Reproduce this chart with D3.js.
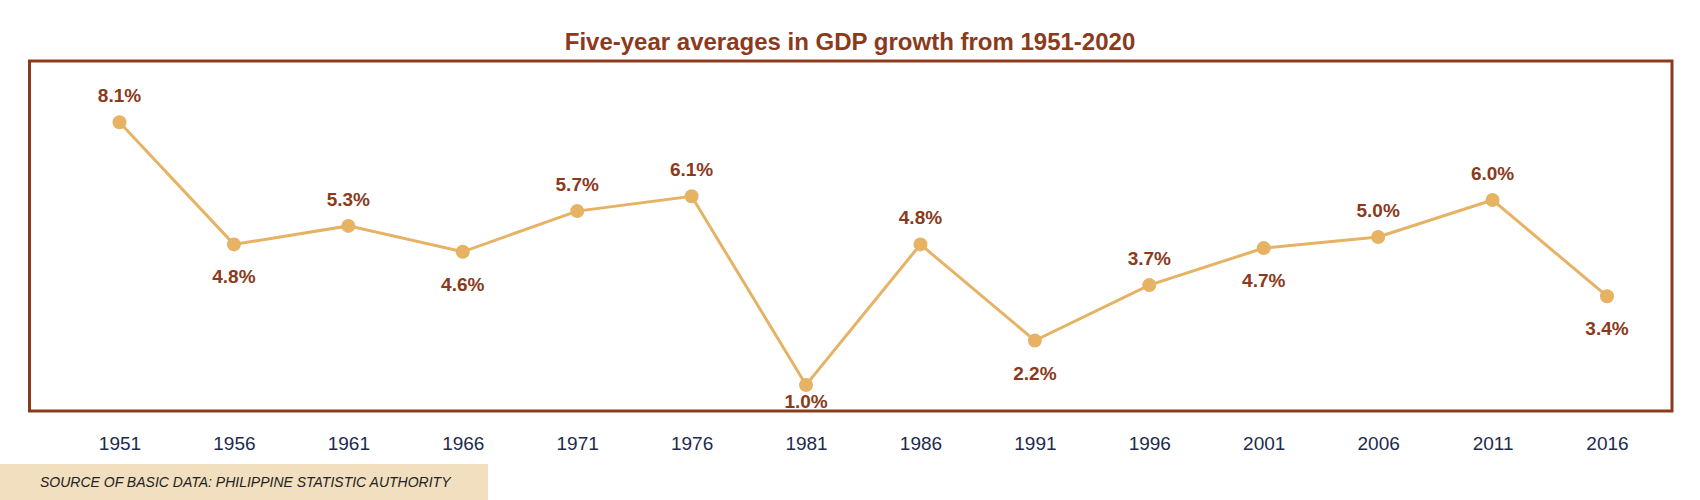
<!DOCTYPE html>
<html>
<head>
<meta charset="utf-8">
<script src="https://cdn.jsdelivr.net/npm/d3@7"></script>
<style>
  html, body { margin: 0; padding: 0; background: #ffffff; }
  svg { display: block; font-family: "Liberation Sans", Arial, sans-serif; }
</style>
</head>
<body>
<svg id="chart" width="1700" height="500"></svg>
<script>
// ---- data ----
const years = ["1951","1956","1961","1966","1971","1976","1981","1986","1991","1996","2001","2006","2011","2016"];
const growth = [8.1, 4.8, 5.3, 4.6, 5.7, 6.1, 1.0, 4.8, 2.2, 3.7, 4.7, 5.0, 6.0, 3.4];
const labelSide = ["above","below","above","below","above","above","below","above","below","above","below","above","above","below"];
const titleText = "Five-year averages in GDP growth from 1951-2020";
const sourceText = "SOURCE OF BASIC DATA: PHILIPPINE STATISTIC AUTHORITY";

// ---- styles ----
const brown = "#8b3a1c";
const lineColor = "#e6b264";
const navy = "#1c2b4e";

const svg = d3.select("#chart");

const box = { left: 29.5, top: 61, right: 1672, bottom: 411 };

const x = d3.scalePoint().domain(years).range([119.5, 1607]);
const y = d3.scaleLinear().domain([0, 9]).range([422, 89]);

// title
svg.append("text")
  .attr("x", 850).attr("y", 50)
  .attr("text-anchor", "middle")
  .attr("font-size", 24).attr("font-weight", "bold")
  .attr("fill", brown)
  .text(titleText);

// frame
svg.append("rect")
  .attr("x", box.left).attr("y", box.top)
  .attr("width", box.right - box.left).attr("height", box.bottom - box.top)
  .attr("fill", "none").attr("stroke", brown).attr("stroke-width", 3);

const data = years.map((yr, i) => ({ year: yr, v: growth[i], side: labelSide[i] }));

// line
svg.append("path")
  .datum(data)
  .attr("fill", "none")
  .attr("stroke", lineColor)
  .attr("stroke-width", 3)
  .attr("d", d3.line().x(d => x(d.year)).y(d => y(d.v)));

// points
svg.append("g").selectAll("circle")
  .data(data).join("circle")
  .attr("cx", d => x(d.year)).attr("cy", d => y(d.v))
  .attr("r", 7)
  .attr("fill", lineColor);

// value labels
svg.append("g").selectAll("text")
  .data(data).join("text")
  .attr("x", d => x(d.year))
  .attr("y", d => {
    const py = y(d.v);
    const c = d.side === "above" ? py - 27 : Math.min(py + 32, box.bottom - 10);
    return c + 7;
  })
  .attr("text-anchor", "middle")
  .attr("font-size", 19).attr("font-weight", "bold")
  .attr("fill", brown)
  .text(d => d.v.toFixed(1) + "%");

// x axis labels
const axis = svg.append("g")
  .attr("transform", "translate(0,436)")
  .call(d3.axisBottom(x).tickSize(0).tickPadding(0));
axis.select(".domain").remove();
axis.selectAll("text")
  .attr("font-size", 19)
  .attr("font-family", "\"Liberation Sans\", Arial, sans-serif")
  .attr("fill", navy);

// source bar
svg.append("rect")
  .attr("x", 0).attr("y", 464)
  .attr("width", 488).attr("height", 36)
  .attr("fill", "#f1dfbf");
svg.append("text")
  .attr("x", 40).attr("y", 487)
  .attr("font-size", 14).attr("font-style", "italic")
  .attr("fill", "#222222")
  .text(sourceText);
</script>
</body>
</html>
